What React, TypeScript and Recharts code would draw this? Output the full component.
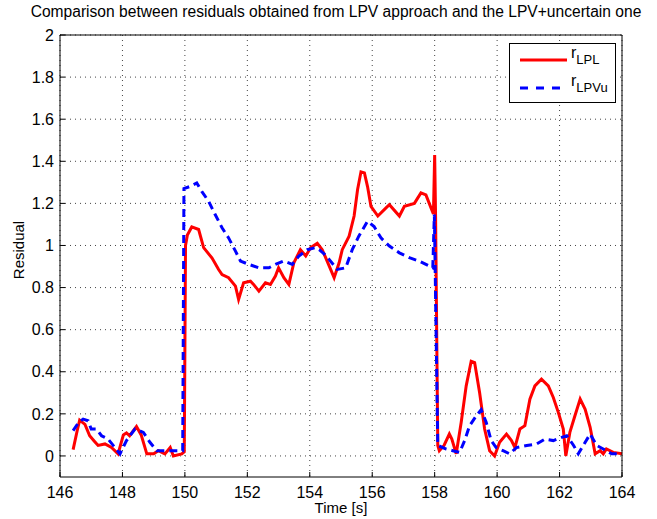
import React from "react";
import { LineChart, Line, XAxis, YAxis, CartesianGrid } from "recharts";

const redTime = [146.42,146.55,146.63,146.8,146.95,147.1,147.22,147.44,147.65,147.86,148.03,148.13,148.23,148.45,148.6,148.78,149.0,149.15,149.36,149.53,149.63,149.9,149.98,150.02,150.08,150.22,150.44,150.6,150.87,151.08,151.19,151.4,151.62,151.72,151.88,152.1,152.2,152.37,152.58,152.74,152.9,153.0,153.17,153.33,153.49,153.7,153.87,154.03,154.24,154.4,154.6,154.78,154.94,155.04,155.26,155.42,155.53,155.64,155.75,155.85,155.96,156.18,156.45,156.55,156.87,157.03,157.35,157.56,157.72,157.88,157.96,158.0,158.03,158.1,158.15,158.3,158.47,158.55,158.69,158.85,159.01,159.17,159.28,159.44,159.6,159.76,159.92,160.08,160.3,160.46,160.57,160.73,160.89,161.05,161.21,161.42,161.64,161.8,161.96,162.12,162.2,162.33,162.49,162.66,162.82,162.98,163.14,163.3,163.4,163.5,163.72,164.0];
const redValues = [0.03,0.12,0.17,0.15,0.096,0.07,0.05,0.057,0.04,0.01,0.1,0.11,0.096,0.14,0.1,0.01,0.01,0.025,0.01,0.04,0.0,0.01,0.02,1.0,1.05,1.088,1.076,0.99,0.94,0.886,0.862,0.847,0.807,0.744,0.823,0.83,0.815,0.783,0.823,0.815,0.855,0.894,0.847,0.815,0.918,0.98,0.95,0.99,1.01,0.98,0.91,0.847,0.918,0.98,1.044,1.14,1.265,1.35,1.345,1.28,1.186,1.14,1.18,1.194,1.14,1.186,1.2,1.25,1.24,1.18,1.15,1.43,1.13,0.05,0.025,0.05,0.104,0.08,0.01,0.16,0.333,0.45,0.444,0.3,0.128,0.025,0.0,0.065,0.104,0.073,0.04,0.128,0.144,0.27,0.333,0.365,0.333,0.278,0.207,0.128,0.0,0.112,0.19,0.27,0.222,0.136,0.01,0.025,0.01,0.033,0.017,0.01];

const blueTime = [146.42,146.6,146.74,146.9,147.0,147.17,147.33,147.54,147.76,147.92,148.13,148.4,148.67,148.88,149.1,149.37,149.63,149.93,149.97,150.16,150.38,150.54,150.76,150.97,151.19,151.4,151.62,151.78,152.05,152.37,152.69,152.9,153.17,153.44,153.65,153.92,154.19,154.3,154.46,154.62,154.88,155.15,155.36,155.57,155.85,156.06,156.28,156.55,156.87,157.19,157.5,157.72,157.94,157.99,158.1,158.37,158.58,158.8,158.96,159.12,159.33,159.49,159.65,159.81,159.97,160.19,160.4,160.62,160.95,161.27,161.53,161.8,162.07,162.23,162.45,162.6,162.76,162.98,163.19,163.4,163.67,163.94];
const blueValues = [0.12,0.16,0.175,0.167,0.128,0.128,0.096,0.08,0.04,0.01,0.073,0.128,0.112,0.065,0.025,0.025,0.025,0.025,1.27,1.28,1.297,1.257,1.21,1.147,1.084,1.036,0.973,0.926,0.91,0.894,0.894,0.91,0.926,0.91,0.95,0.98,0.99,0.98,0.96,0.934,0.886,0.894,0.98,1.044,1.115,1.09,1.036,0.997,0.965,0.942,0.926,0.91,0.894,1.147,0.05,0.033,0.025,0.017,0.073,0.144,0.19,0.22,0.16,0.073,0.04,0.025,0.01,0.04,0.05,0.057,0.08,0.073,0.088,0.096,0.05,0.01,0.05,0.104,0.05,0.033,0.01,0.01];

const xTicks = [146,148,150,152,154,156,158,160,162,164];
const yTicks = [0,0.2,0.4,0.6,0.8,1,1.2,1.4,1.6,1.8,2];

const titleText = "Comparison between residuals obtained from LPV approach and the LPV+uncertain one";
const xLabel = "Time [s]";
const yLabel = "Residual";

const redData = redTime.map((t, i) => ({ t, v: redValues[i] }));
const blueData = blueTime.map((t, i) => ({ t, v: blueValues[i] }));

const FONT = "'Liberation Sans', Arial, sans-serif";
const tickStyle = { fontSize: 16, fill: "#000", fontFamily: FONT };
const fmtY = (v: number) => String(Math.round(v * 10) / 10);

export default function App() {
  return (
    <div style={{ position: "absolute", left: 0, top: 0, width: 657, height: 519, background: "#fff", fontFamily: FONT, overflow: "hidden" }}>
      <div style={{ position: "absolute", left: 0, width: 672, top: 3, textAlign: "center", fontSize: 15.6, color: "#000", whiteSpace: "nowrap", zIndex: 3 }}>
        {titleText}
      </div>
      <div style={{ position: "absolute", left: 291, width: 100, top: 499, textAlign: "center", fontSize: 15, zIndex: 3 }}>{xLabel}</div>
      <div style={{ position: "absolute", left: 18, top: 250, transform: "translate(-50%,-50%) rotate(-90deg)", fontSize: 15, whiteSpace: "nowrap", zIndex: 3 }}>{yLabel}</div>
      <div style={{ position: "absolute", left: 509, top: 43, width: 107, height: 60, border: "1px solid #000", background: "#fff", boxSizing: "border-box", zIndex: 2 }}>
        <svg width={107} height={60} style={{ position: "absolute", left: 0, top: 0 }}>
          <line x1={10} x2={57} y1={16} y2={16} stroke="#ff0000" strokeWidth={3} />
          <line x1={10} x2={57} y1={44} y2={44} stroke="#0000ff" strokeWidth={3} strokeDasharray="8 8" />
          <text x={61} y={14} fontSize={16} fontFamily={FONT}>r<tspan fontSize={13} dy={6}>LPL</tspan></text>
          <text x={61} y={42} fontSize={16} fontFamily={FONT}>r<tspan fontSize={13} dy={6}>LPVu</tspan></text>
        </svg>
      </div>
      <LineChart width={657} height={519} margin={{ top: 34, right: 34, bottom: 0, left: 0 }}>
        <CartesianGrid xAxisId="b" yAxisId="l" stroke="#444" strokeDasharray="1 4" horizontalValues={yTicks} verticalValues={xTicks} />
        <XAxis xAxisId="b" dataKey="t" type="number" domain={[146, 164]} ticks={xTicks} allowDuplicatedCategory={false}
          height={42} tickSize={-5} tickMargin={15} tick={tickStyle} stroke="#000" interval={0} />
        <XAxis xAxisId="top" orientation="top" dataKey="t" type="number" domain={[146, 164]} ticks={xTicks}
          height={1} tickSize={-5} tick={() => <g />} stroke="#000" interval={0} />
        <YAxis yAxisId="l" type="number" domain={[-0.1, 2]} ticks={yTicks} width={60} tickSize={-5} tickMargin={11}
          tick={tickStyle} tickFormatter={fmtY} stroke="#000" interval={0} />
        <YAxis yAxisId="r" orientation="right" type="number" domain={[-0.1, 2]} ticks={yTicks} width={1} tickSize={-5}
          tick={() => <g />} stroke="#000" interval={0} />
        <Line xAxisId="b" yAxisId="l" data={redData} dataKey="v" type="linear" stroke="#ff0000" strokeWidth={3}
          dot={false} isAnimationActive={false} />
        <Line xAxisId="b" yAxisId="l" data={blueData} dataKey="v" type="linear" stroke="#0000ff" strokeWidth={3}
          strokeDasharray="8 5" dot={false} isAnimationActive={false} />
      </LineChart>
    </div>
  );
}
